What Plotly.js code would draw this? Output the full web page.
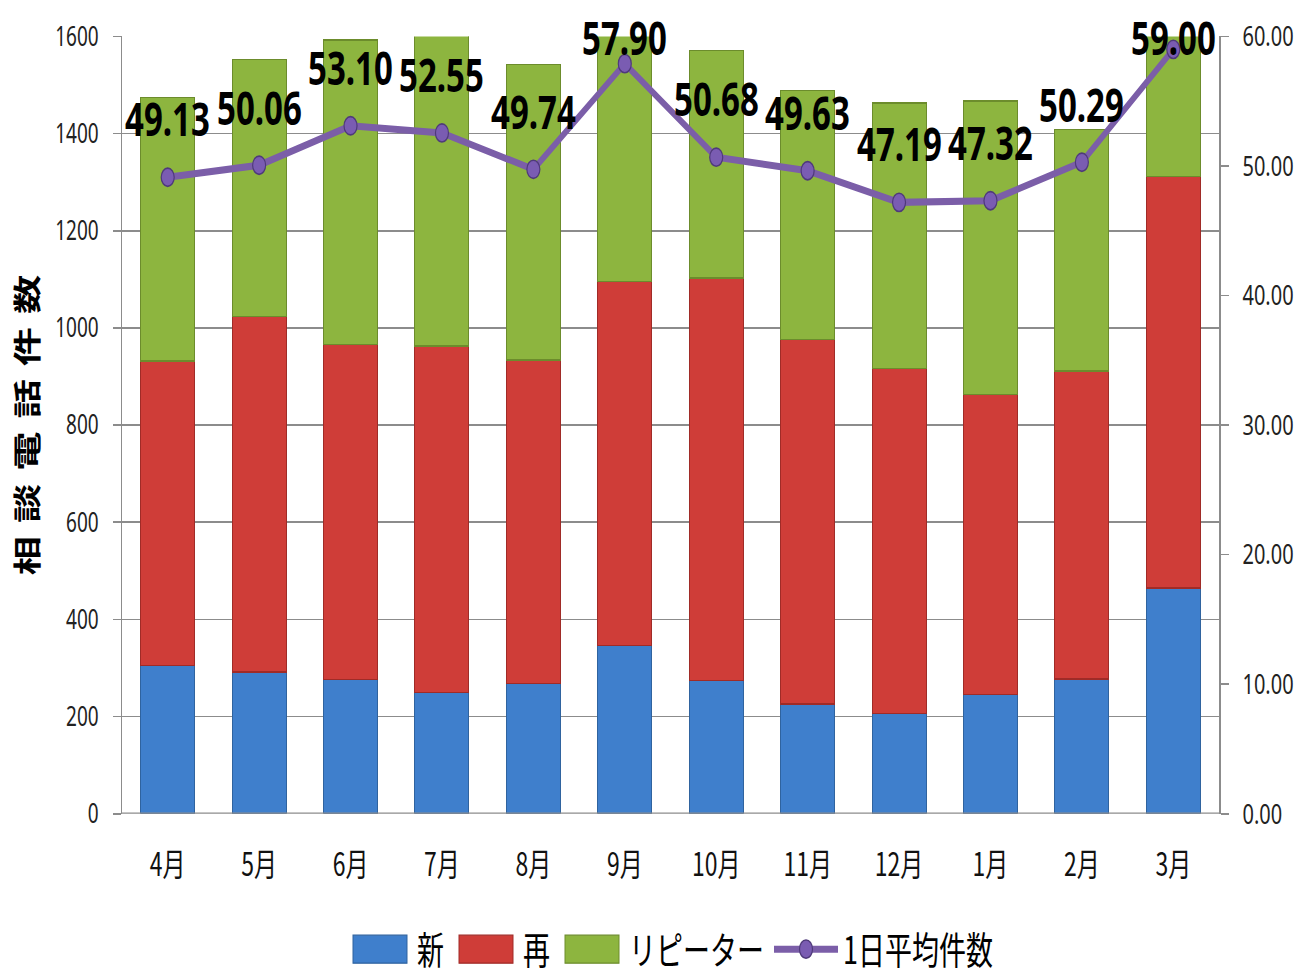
<!DOCTYPE html>
<html>
<head>
<meta charset="utf-8">
<script src="https://cdn.plot.ly/plotly-3.0.1.min.js"></script>
<style>
  html, body { margin: 0; padding: 0; background: #ffffff; }
  #frame { width: 1299px; height: 979px; position: relative; }
  #chart { position: absolute; left: 0; top: 0; width: 1299px; height: 699px; transform: scaleY(1.40057); transform-origin: 0 0; }
</style>
</head>
<body>
<div id="frame"><div id="chart"></div></div>
<script>
// ---- data ----
const months = ['4月', '5月', '6月', '7月', '8月', '9月', '10月', '11月', '12月', '1月', '2月', '3月'];
const newCalls = [305, 292, 276, 249, 268, 346, 274, 226, 206, 245, 277, 465];
const reCalls = [627, 732, 690, 714, 666, 750, 829, 750, 710, 618, 634, 847];
const repeaterCalls = [542, 528, 627, 666, 608, 641, 468, 513, 547, 604, 497, 517];
const dailyAvg = [49.13, 50.06, 53.10, 52.55, 49.74, 57.90, 50.68, 49.63, 47.19, 47.32, 50.29, 59.00];
const leftTicks = [0, 200, 400, 600, 800, 1000, 1200, 1400, 1600];
const rightTicks = [0, 10, 20, 30, 40, 50, 60];

const seriesNames = ['新', '再', 'リピーター', '1日平均件数'];
const yTitle = '相\u2004談\u2004電\u2004話\u2004件\u2004数';

const latin = '"Noto Sans", "Noto Sans CJK JP", sans-serif';
const cjk = '"Noto Sans CJK JP", "Noto Sans", sans-serif';

const traces = [
  {
    type: 'bar', name: seriesNames[0], x: months, y: newCalls,
    marker: { color: '#3F7FCC', line: { color: '#2F639F', width: 1 } },
    hoverinfo: 'y'
  },
  {
    type: 'bar', name: seriesNames[1], x: months, y: reCalls,
    marker: { color: '#CF3D38', line: { color: '#A02B27', width: 1 } },
    hoverinfo: 'y'
  },
  {
    type: 'bar', name: seriesNames[2], x: months, y: repeaterCalls,
    marker: { color: '#8DB53F', line: { color: '#6C8C2C', width: 1 } },
    hoverinfo: 'y'
  },
  {
    type: 'scatter', mode: 'lines+markers', name: seriesNames[3],
    x: months, y: dailyAvg, yaxis: 'y2',
    line: { color: '#7B5EA8', width: 5 },
    marker: { color: '#7A5CB2', size: 13, line: { color: '#4F3A7A', width: 1.2 } },
    hoverinfo: 'y'
  }
];

// data labels above each point (kept inside the plot top)
const annotations = dailyAvg.map((v, i) => ({
  x: months[i], y: Math.min(v + 4.5, 60), xref: 'x', yref: 'y2',
  text: v.toFixed(2), showarrow: false, yanchor: 'middle', xanchor: 'center',
  font: { family: latin, size: 33, color: '#000000', weight: 'bold' }
}));

const layout = {
  width: 1299, height: 699,
  margin: { l: 122, r: 80, t: 26, b: 118, autoexpand: false },
  paper_bgcolor: '#ffffff', plot_bgcolor: '#ffffff',
  barmode: 'stack', bargap: 0.41,
  showlegend: true,
  legend: {
    orientation: 'h', x: 0.5, xanchor: 'center', y: -0.175, yanchor: 'middle',
    font: { family: cjk, size: 27, color: '#000000' },
    itemwidth: 64, traceorder: 'normal'
  },
  xaxis: {
    type: 'category', range: [-0.5, months.length - 0.5],
    tickfont: { family: cjk, size: 23, color: '#111111' },
    showgrid: false, showline: false, zeroline: false,
    ticks: 'outside', ticklen: 16, tickcolor: 'rgba(0,0,0,0)'
  },
  yaxis: {
    range: [0, 1600], tickvals: leftTicks, ticktext: leftTicks.map(String),
    tickfont: { family: latin, size: 19, color: '#222222' },
    showgrid: true, gridcolor: '#8c8c8c', gridwidth: 1.2,
    showline: true, linecolor: '#8c8c8c', linewidth: 1.5,
    ticks: 'outside', ticklen: 8, tickcolor: '#8c8c8c', tickwidth: 1.2,
    ticklabelstandoff: 10,
    zeroline: false,
    title: { text: yTitle, font: { family: cjk, size: 28, color: '#000000', weight: 'bold' }, standoff: 8 }
  },
  yaxis2: {
    overlaying: 'y', side: 'right', range: [0, 60],
    tickvals: rightTicks, ticktext: rightTicks.map(v => v.toFixed(2)),
    tickfont: { family: latin, size: 20, color: '#222222' },
    showgrid: false, zeroline: false,
    showline: true, linecolor: '#8c8c8c', linewidth: 1.5,
    ticks: 'outside', ticklen: 8, tickcolor: '#8c8c8c', tickwidth: 1.2,
    ticklabelstandoff: 10
  },
  annotations: annotations,
  shapes: [
    { type: 'line', xref: 'paper', yref: 'y', x0: 0, x1: 1, y0: 0, y1: 0, line: { color: '#8c8c8c', width: 1.6 } }
  ]
};

Plotly.newPlot('chart', traces, layout, { displayModeBar: false, staticPlot: true }).then(function (gd) {
  // widen the bar swatches in the legend to look like the reference
  const items = gd.querySelectorAll('.legend .traces');
  items.forEach(function (item, idx) {
    if (idx < 3) {
      item.querySelectorAll('.legendpoints path').forEach(function (p) {
        p.setAttribute('d', 'M-27,-10H27V10H-27Z');
      });
    }
  });
});
</script>
</body>
</html>
